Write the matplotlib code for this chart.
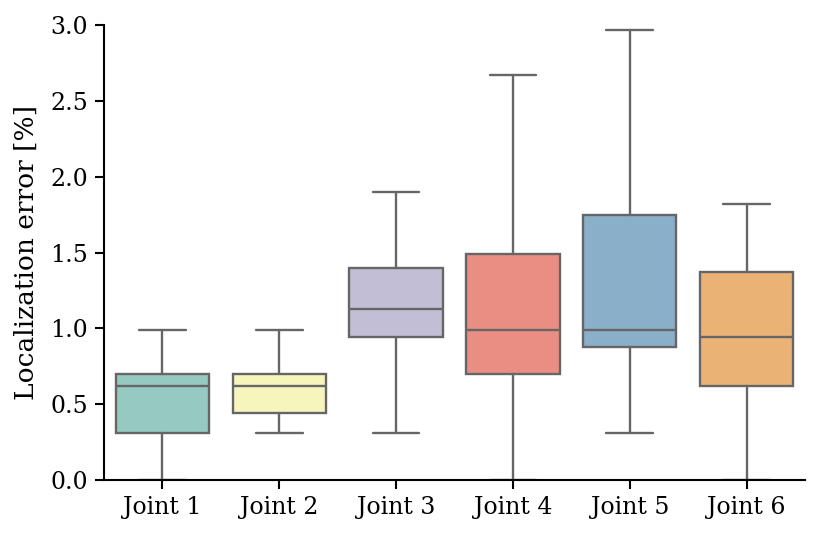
import matplotlib
matplotlib.use("Agg")
import matplotlib.pyplot as plt
import seaborn as sns

joints = ["Joint 1", "Joint 2", "Joint 3", "Joint 4", "Joint 5", "Joint 6"]
# box stats (localization error, %)
whislo = [0.0, 0.31, 0.31, 0.0, 0.31, 0.0]
q1 = [0.31, 0.44, 0.94, 0.70, 0.88, 0.62]
med = [0.62, 0.62, 1.13, 0.99, 0.99, 0.94]
q3 = [0.70, 0.70, 1.40, 1.49, 1.75, 1.37]
whishi = [0.99, 0.99, 1.90, 2.67, 2.97, 1.82]

sns.set_style("ticks")
plt.rcParams['font.family'] = ['DejaVu Serif']
plt.rcParams['text.color'] = 'black'
plt.rcParams['axes.labelcolor'] = 'black'
plt.rcParams['xtick.color'] = 'black'
plt.rcParams['ytick.color'] = 'black'
plt.rcParams['axes.edgecolor'] = 'black'

pal = [sns.desaturate(c, 0.75) for c in sns.color_palette("Set3", 6)]
line_col = "#666666"
lw = 1.7

stats = []
for name, lo, a, m, b, hi in zip(joints, whislo, q1, med, q3, whishi):
	stats.append(dict(label=name, whislo=lo, q1=a, med=m, q3=b, whishi=hi, fliers=[]))

fig = plt.figure(figsize=(8.3, 5.36), dpi=100)
ax = fig.add_axes([104/830, 56/536, 701/830, 455/536])

bp = ax.bxp(stats, positions=range(len(joints)), widths=0.8, patch_artist=True,
	showfliers=False,
	boxprops=dict(edgecolor=line_col, linewidth=lw),
	medianprops=dict(color=line_col, linewidth=lw),
	whiskerprops=dict(color=line_col, linewidth=lw),
	capprops=dict(color=line_col, linewidth=lw))
for patch, c in zip(bp['boxes'], pal):
	patch.set_facecolor(c)
# caps are half box width like seaborn
for cap in bp['caps']:
	x = cap.get_xdata()
	mid = (x[0] + x[1]) / 2
	cap.set_xdata([mid - 0.2, mid + 0.2])

ax.set_xlim(-0.5, 5.5)
ax.set_ylim(0, 3.0)
ax.set_yticks([0, 0.5, 1.0, 1.5, 2.0, 2.5, 3.0])
ax.set_yticklabels(["0.0", "0.5", "1.0", "1.5", "2.0", "2.5", "3.0"])
ax.set_xticks(range(len(joints)))
ax.set_xticklabels(joints)
ax.tick_params(labelsize=17, length=6.5, width=1.5, pad=5)
ax.set_ylabel("Localization error [%]", fontsize=19, labelpad=8)
for s in ['left', 'bottom']:
	ax.spines[s].set_linewidth(1.5)
sns.despine(ax=ax)

fig.savefig("out.png", dpi=100)
